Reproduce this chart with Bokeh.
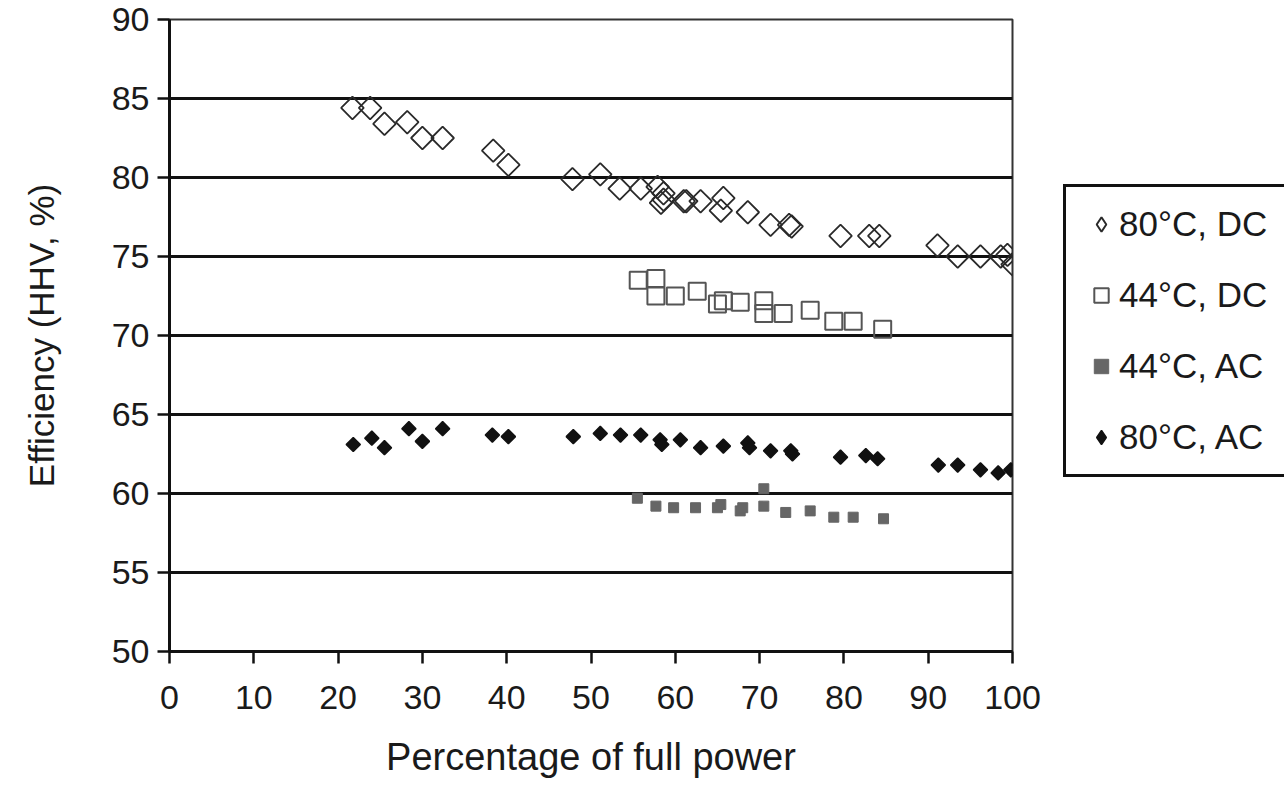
import numpy as np
from bokeh.plotting import figure
from bokeh.models import Range1d, Legend, LegendItem, FixedTicker, ColumnDataSource
from bokeh.embed import file_html
from bokeh.resources import INLINE

# ---- data ----
dc80_x = [21.7, 23.8, 25.5, 28.2, 30.0, 32.4, 38.4, 40.2, 47.8, 51.1, 53.4, 55.9, 57.9, 58.6,
          58.3, 58.6, 61.0, 61.3, 63.0, 65.7, 65.4, 68.6, 71.3, 73.5, 73.8, 79.6, 83.0, 84.2,
          91.1, 93.5, 96.2, 98.6, 99.4, 100.0]
dc80_y = [84.4, 84.4, 83.4, 83.5, 82.5, 82.5, 81.7, 80.8, 79.9, 80.2, 79.3, 79.3, 79.4, 79.0,
          78.4, 78.6, 78.5, 78.5, 78.5, 78.7, 77.9, 77.8, 77.0, 77.0, 76.9, 76.3, 76.3, 76.3,
          75.7, 75.0, 75.0, 75.0, 75.1, 74.5]

dc44_x = [55.6, 57.7, 57.7, 60.0, 62.6, 65.0, 65.7, 67.7, 70.5, 70.5, 72.8, 76.0, 78.8, 81.1, 84.6]
dc44_y = [73.5, 73.6, 72.5, 72.5, 72.8, 72.0, 72.2, 72.1, 72.2, 71.4, 71.4, 71.6, 70.9, 70.9, 70.4]

ac44_x = [55.5, 57.7, 59.8, 62.4, 65.0, 65.4, 67.7, 68.0, 70.5, 70.5, 73.1, 76.0, 78.8, 81.1, 84.7]
ac44_y = [59.7, 59.2, 59.1, 59.1, 59.1, 59.3, 58.9, 59.1, 59.2, 60.3, 58.8, 58.9, 58.5, 58.5, 58.4]

ac80_x = [21.8, 24.0, 25.5, 28.4, 30.0, 32.4, 38.3, 40.2, 47.9, 51.1, 53.5, 55.9, 58.2, 58.4,
          60.6, 63.0, 65.7, 68.6, 68.8, 71.3, 73.7, 73.9, 79.6, 82.6, 84.0, 91.2, 93.5, 96.2,
          98.3, 99.8]
ac80_y = [63.1, 63.5, 62.9, 64.1, 63.3, 64.1, 63.7, 63.6, 63.6, 63.8, 63.7, 63.7, 63.4, 63.1,
          63.4, 62.9, 63.0, 63.2, 62.9, 62.7, 62.7, 62.5, 62.3, 62.4, 62.2, 61.8, 61.8, 61.5,
          61.3, 61.5]

series_labels = ["80\u00b0C, DC", "44\u00b0C, DC", "44\u00b0C, AC", "80\u00b0C, AC"]
x_ticks = [0, 10, 20, 30, 40, 50, 60, 70, 80, 90, 100]
y_ticks = [50, 55, 60, 65, 70, 75, 80, 85, 90]

FONT = "Liberation Sans"

p = figure(output_backend="svg", toolbar_location=None,
           x_range=Range1d(0, 100), y_range=Range1d(50, 90),
           frame_width=843, frame_height=632,
           min_border_left=169, min_border_top=19, min_border_bottom=136, min_border_right=272)

p.background_fill_color = "white"
p.border_fill_color = "white"
p.outline_line_color = "#333333"
p.outline_line_width = 2

# grid
p.xgrid.visible = False
p.ygrid.ticker = FixedTicker(ticks=y_ticks)
p.ygrid.grid_line_color = "#111111"
p.ygrid.grid_line_width = 3

for ax in (p.xaxis[0], p.yaxis[0]):
    ax.axis_line_color = "#111111"
    ax.axis_line_width = 3
    ax.major_tick_line_color = "#111111"
    ax.major_tick_line_width = 2.5
    ax.major_tick_out = 12
    ax.major_tick_in = 0
    ax.minor_tick_line_color = None
    ax.major_label_text_font = FONT
    ax.major_label_text_color = "#1a1a1a"
    ax.axis_label_text_font = FONT
    ax.axis_label_text_font_style = "normal"
    ax.axis_label_text_color = "#1a1a1a"

p.xaxis.ticker = FixedTicker(ticks=x_ticks)
p.yaxis.ticker = FixedTicker(ticks=y_ticks)
p.xaxis.major_label_text_font_size = "34px"
p.yaxis.major_label_text_font_size = "34px"
p.xaxis.major_label_standoff = 22
p.yaxis.major_label_standoff = 8
p.xaxis.axis_label = "Percentage of full power"
p.yaxis.axis_label = "Efficiency (HHV, %)"
p.xaxis.axis_label_text_font_size = "38px"
p.yaxis.axis_label_text_font_size = "35px"
p.xaxis.axis_label_standoff = 24
p.yaxis.axis_label_standoff = 48

ang = np.pi / 4
r_dc80 = p.scatter(dc80_x, dc80_y, marker="square", angle=ang, size=16,
                   fill_color=None, line_color="#2a2a2a", line_width=1.8)
r_dc44 = p.scatter(dc44_x, dc44_y, marker="square", size=17,
                   fill_color=None, line_color="#555555", line_width=2)
r_ac44 = p.scatter(ac44_x, ac44_y, marker="square", size=10,
                   fill_color="#666666", line_color="#666666", line_width=1)
r_ac80 = p.scatter(ac80_x, ac80_y, marker="square", angle=ang, size=10,
                   fill_color="#111111", line_color="#111111", line_width=1.5)

# legend-key swatches only (a single NaN row, so nothing is drawn in the plot)
key_src = ColumnDataSource(dict(x=[np.nan], y=[np.nan]))
lg_dc80 = p.scatter("x", "y", source=key_src, marker="diamond",
                    fill_color=None, line_color="#2a2a2a", line_width=2)
lg_ac80 = p.scatter("x", "y", source=key_src, marker="diamond",
                    fill_color="#111111", line_color="#111111", line_width=1.5)

legend = Legend(items=[LegendItem(label=series_labels[0], renderers=[lg_dc80]),
                       LegendItem(label=series_labels[1], renderers=[r_dc44]),
                       LegendItem(label=series_labels[2], renderers=[r_ac44]),
                       LegendItem(label=series_labels[3], renderers=[lg_ac80])],
                location=(51, 174))
legend.label_text_font = FONT
legend.label_text_font_size = "35px"
legend.label_text_color = "#1a1a1a"
legend.label_height = 36
legend.glyph_height = 36
legend.glyph_width = 36
legend.label_standoff = -6
legend.spacing = 31
legend.padding = 17
legend.margin = 0
legend.border_line_color = "#111111"
legend.border_line_width = 3
legend.border_line_alpha = 1
legend.background_fill_color = "white"
legend.background_fill_alpha = 1
p.add_layout(legend, "right")

open("out.html", "w").write(file_html(p, INLINE))
